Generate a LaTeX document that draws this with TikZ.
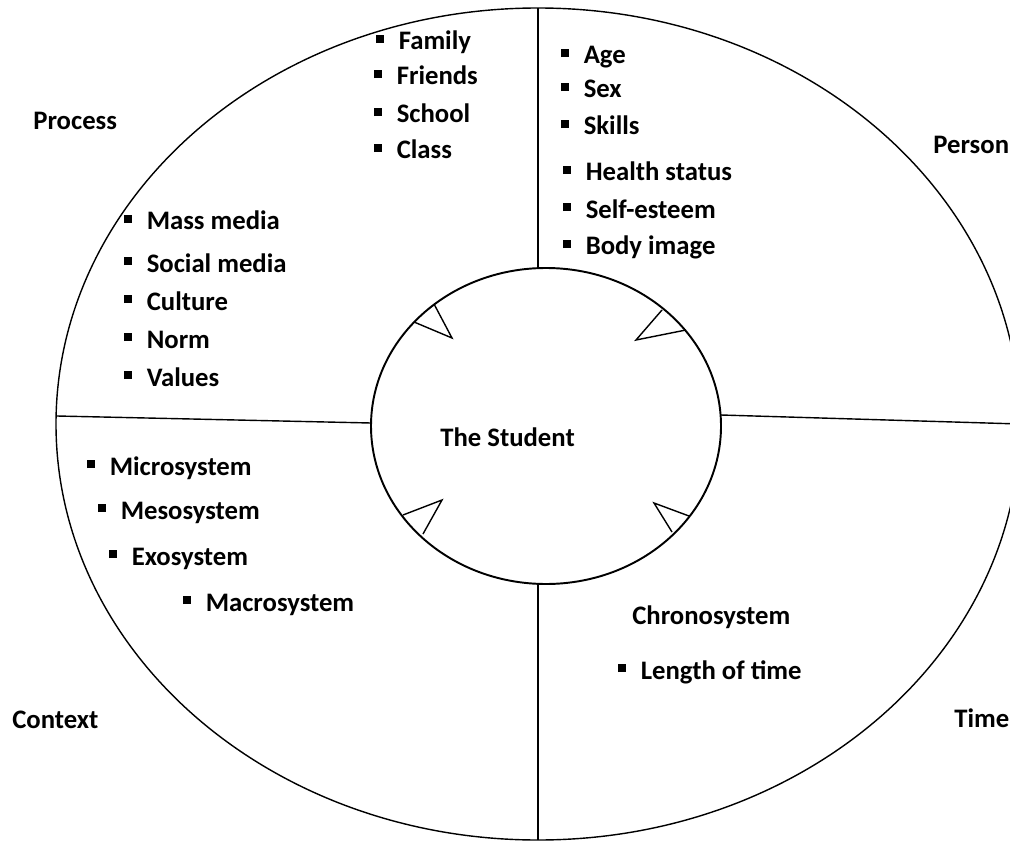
\documentclass[tikz,border=0pt]{standalone}
\usepackage{fontspec}
\setmainfont{Carlito}
\usepackage{tikz}
\newcommand{\sqbul}{\rule[0.26em]{0.29em}{0.29em}\hspace{0.55em}}

\begin{document}
\begin{tikzpicture}[x=0.02cm, y=-0.02cm,
    lbl/.style={anchor=base west, inner sep=0pt, font=\fontsize{15.2}{18}\selectfont\bfseries},
    item/.style={lbl}]
    \useasboundingbox (0,0) rectangle (1010,841);

    % outer ring and the student
    \draw[line width=0.8pt] (538,424) ellipse [x radius=482, y radius=416];
    \draw[line width=1.1pt] (546,426) ellipse [x radius=175, y radius=158];

    % dividers
    \draw[line width=0.8pt] (538,8) -- (538,268);
    \draw[line width=0.8pt] (538,584) -- (538,840);
    \draw[line width=0.8pt] (57,416) -- (371,423);
    \draw[line width=0.8pt] (721,415) -- (1020,424);

    % notches on the inner circle
    \draw[line width=0.8pt] (434,304) -- (452,338) -- (414,322);
    \draw[line width=0.8pt] (662,310) -- (636,340) -- (686,330);
    \draw[line width=0.8pt] (403,515) -- (442,500) -- (423,534);
    \draw[line width=0.8pt] (672,532) -- (654,503) -- (689,516);

    \node[lbl] (student) at (440,446) {The Student};

    % corner labels
    \node[lbl] (process) at (33,130) {Process};
    \node[lbl] (person) at (933,154) {Person};
    \node[lbl] (context) at (12,728) {Context};
    \node[lbl] (time) at (954,727) {Time};

    % process
    \node[item] (family) at (376,50) {\sqbul Family};
    \node[item] (friends) at (374,85) {\sqbul Friends};
    \node[item] (school) at (374,123) {\sqbul School};
    \node[item] (class) at (374,159) {\sqbul Class};
    \node[item] (mass) at (124,230) {\sqbul Mass media};
    \node[item] (social) at (124,272) {\sqbul Social media};
    \node[item] (culture) at (124,310) {\sqbul Culture};
    \node[item] (norm) at (124,348) {\sqbul Norm};
    \node[item] (values) at (124,386) {\sqbul Values};

    % person
    \node[item] (age) at (561,64) {\sqbul Age};
    \node[item] (sex) at (561,98) {\sqbul Sex};
    \node[item] (skills) at (561,135) {\sqbul Skills};
    \node[item] (health) at (563,181) {\sqbul Health status};
    \node[item] (esteem) at (563,218) {\sqbul Self-esteem};
    \node[item] (body) at (563,255) {\sqbul Body image};

    % context
    \node[item] (micro) at (87,475) {\sqbul Microsystem};
    \node[item] (meso) at (98,519) {\sqbul Mesosystem};
    \node[item] (exo) at (109,565) {\sqbul Exosystem};
    \node[item] (macro) at (183,611) {\sqbul Macrosystem};

    % time
    \node[lbl] (chrono) at (632,624) {Chronosystem};
    \node[item] (length) at (618,679) {\sqbul Length of time};
\end{tikzpicture}
\end{document}
